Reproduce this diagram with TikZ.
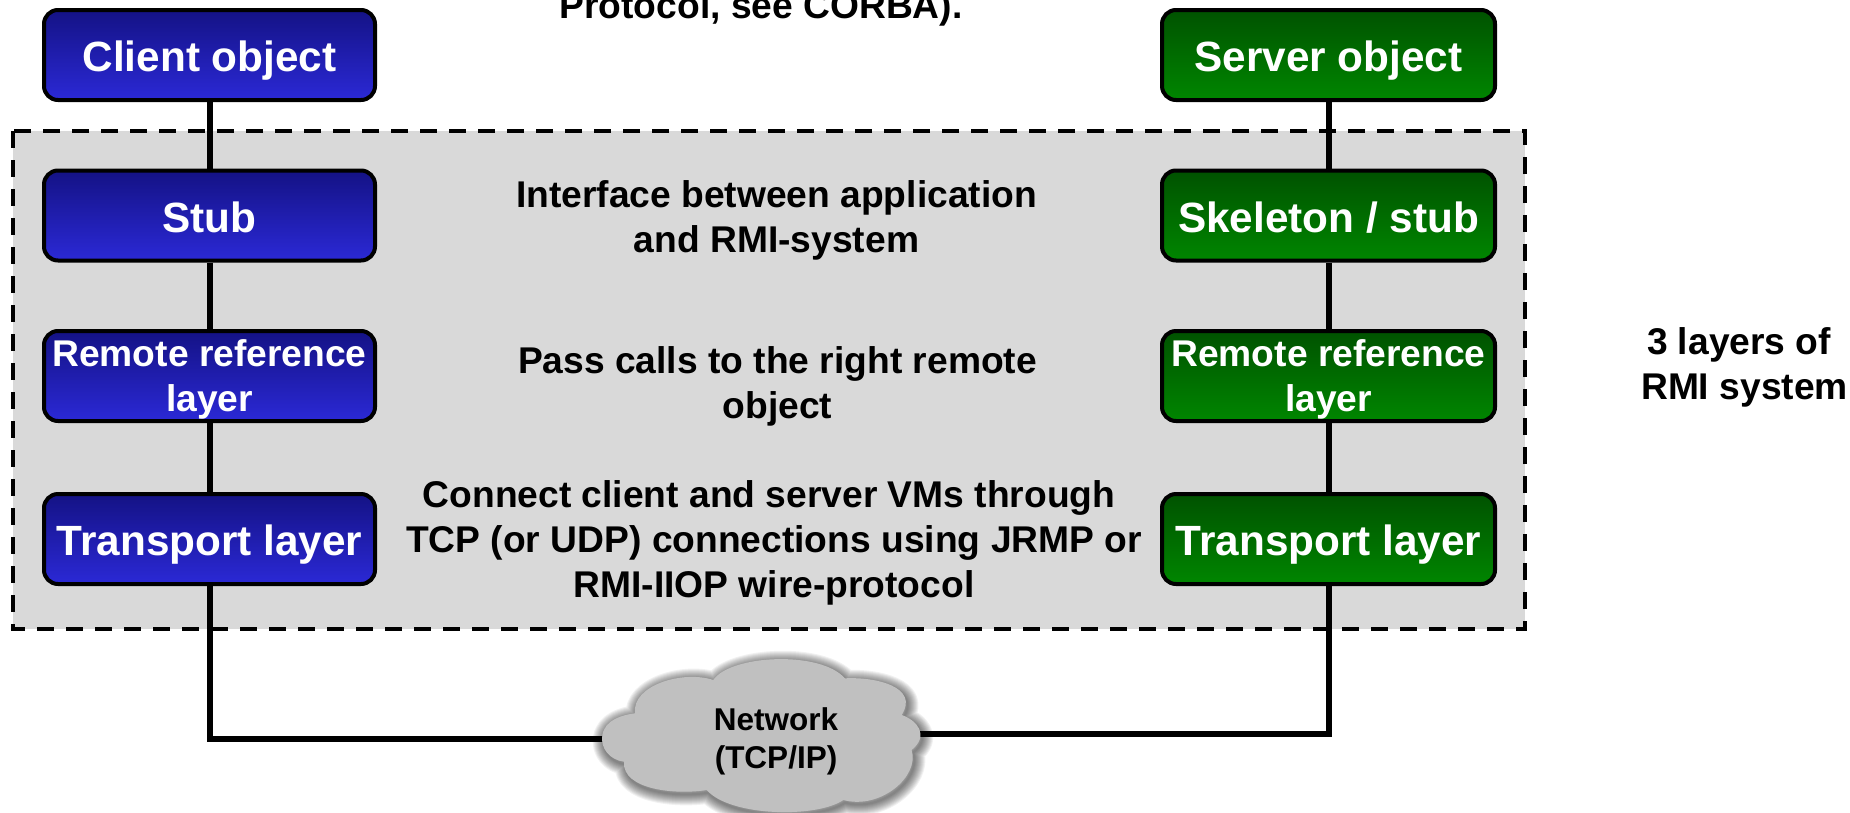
\documentclass[tikz,border=0pt]{standalone}
\usepackage{fontspec}
\setmainfont{Liberation Sans}
\definecolor{bluedark}{HTML}{141285}
\definecolor{bluelight}{HTML}{2B29D6}
\definecolor{greendark}{HTML}{005200}
\definecolor{greenlight}{HTML}{008600}
\definecolor{panelgray}{HTML}{D9D9D9}
\definecolor{cloudgray}{HTML}{C0C0C0}
\tikzset{
  every node/.style={font=\bfseries},
  layerbox/.style={rounded corners=14pt,draw=black,line width=4pt,minimum width=331pt,minimum height=90pt,
    inner sep=0pt,align=center,shading=axis,shading angle=45},
  clientbox/.style={layerbox,top color=bluedark,bottom color=bluelight},
  serverbox/.style={layerbox,minimum width=333pt,top color=greendark,bottom color=greenlight},
  boxlabel/.style={text=white,align=center,inner sep=0pt},
  bigtext/.style={boxlabel,font=\bfseries\fontsize{42.3}{45}\selectfont},
  smalltext/.style={boxlabel,font=\bfseries\fontsize{37.2}{45}\selectfont},
  note/.style={font=\bfseries\fontsize{37.2}{45}\selectfont,text=black,align=center,inner sep=0pt},
  link/.style={draw=black,line width=6pt},
  panel/.style={fill=panelgray,draw=black,line width=4.2pt,dash pattern=on 17pt off 12pt},
}
\begin{document}
\begin{tikzpicture}[x=1pt,y=-1pt]
\path[use as bounding box] (0,0) rectangle (1850,812);
\fill[white] (0,0) rectangle (1850,812);
\draw[panel] (13,131) rectangle (1525,629);

\node[note,anchor=base] (top) at (761,18) {Protocol, see CORBA).};

\node[clientbox] (c1) at (209.5,55) {};
\node[clientbox] (c2) at (209.5,215.5) {};
\node[clientbox] (c3) at (209.5,376) {};
\node[clientbox] (c4) at (209.5,539) {};
\node[serverbox] (s1) at (1328.5,55) {};
\node[serverbox] (s2) at (1328.5,215.5) {};
\node[serverbox] (s3) at (1328.5,376) {};
\node[serverbox] (s4) at (1328.5,539) {};

\node[bigtext] (c1t) at (209.5,61) {Client object};
\node[bigtext] (c2t) at (209.5,217.5) {Stub};
\node[smalltext] (c3t) at (209.5,379) {Remote reference\\layer};
\node[bigtext] (c4t) at (209.5,545) {Transport layer};
\node[bigtext] (s1t) at (1328.5,61) {Server object};
\node[bigtext] (s2t) at (1328.5,217.5) {Skeleton / stub};
\node[smalltext] (s3t) at (1328.5,379) {Remote reference\\layer};
\node[bigtext] (s4t) at (1328.5,545) {Transport layer};

\node[note] (n1) at (776.5,220) {Interface between application\\and RMI-system};
\node[note] (n2) at (777.5,386) {Pass calls to the right remote\\object};
\node[note] (n3) at (774,543) {Connect client and server VMs through\hspace*{10pt}\\TCP (or UDP) connections using JRMP or\\RMI-IIOP wire-protocol};
\node[note] (n4) at (1744.5,367) {3 layers of\hspace*{11pt}\\RMI system};

\draw[link] (c1) -- (c2);
\draw[link] (c2) -- (c3);
\draw[link] (c3) -- (c4);
\draw[link] (s1) -- (s2);
\draw[link] (s2) -- (s3);
\draw[link] (s3) -- (s4);

\coordinate (netl) at (604,739);
\coordinate (netr) at (920,734);
\draw[link] (c4.south) |- (netl);
\draw[link] (s4.south) |- (netr);

\begin{scope}[shift={(550,620)},x=0.3333pt,y=-0.3333pt]
\def\cloudpath{(157,345)
 .. controls (165,300) and (215,285) .. (255,280)
 .. controls (245,195) and (400,150) .. (490,180)
 .. controls (540,105) and (810,90) .. (885,175)
 .. controls (975,170) and (1110,200) .. (1055,285)
 .. controls (1100,300) and (1140,345) .. (1085,390)
 .. controls (1110,470) and (990,570) .. (880,540)
 .. controls (800,595) and (540,590) .. (470,510)
 .. controls (380,525) and (215,510) .. (222,425)
 .. controls (180,420) and (150,385) .. (157,345) -- cycle}
 \foreach \w in {22,20,18,16,14,12,10,8,6,4,2}{
  \draw[black,opacity=0.055,line width=\w*1pt,line join=round,shift={(5,8)}] \cloudpath;
 }
 \fill[cloudgray] \cloudpath;
\end{scope}
\node[inner sep=0pt,align=center,font=\bfseries\fontsize{31.5}{38}\selectfont] (net) at (776,741) {Network\\(TCP/IP)};
\end{tikzpicture}
\end{document}
